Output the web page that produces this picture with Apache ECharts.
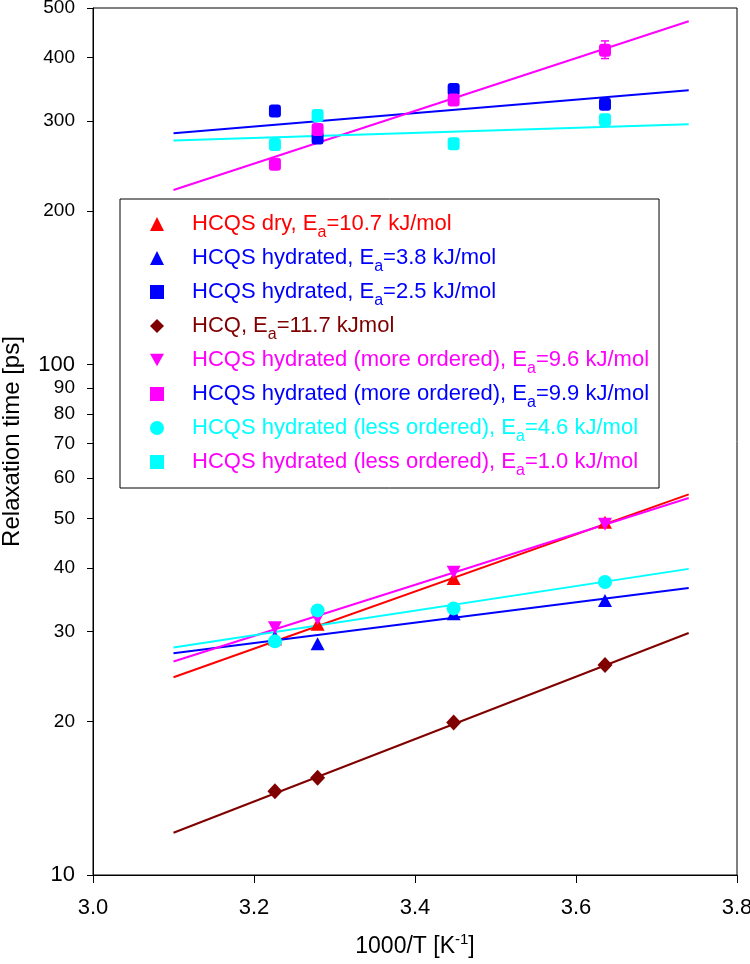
<!DOCTYPE html>
<html>
<head>
<meta charset="utf-8">
<script src="https://cdn.jsdelivr.net/npm/echarts@6/dist/echarts.min.js"></script>
<style>html,body{margin:0;padding:0;background:#fff}#chart{width:750px;height:964px}</style>
</head>
<body>
<div id="chart"></div>
<script>
// ---- data ----
const xValues = [3.226, 3.279, 3.448, 3.636];          // 1000/T [K^-1]
const fitX = [3.10, 3.74];                               // fit line end points
const yTickValues = [10, 20, 30, 40, 50, 60, 70, 80, 90, 100, 200, 300, 400, 500];

const hcqsDry        = [29.0, 31.0, 38.1, 49.1];
const hcqsDryFit     = [24.4, 55.7];
const hcqsHydTri     = [29.3, 28.4, 32.5, 34.5];
const hcqsHydTriFit  = [27.2, 36.5];
const hcqsHydSq      = [314, 278, 346, 324];
const hcqsHydSqFit   = [284, 345];
const hcq            = [14.6, 15.5, 19.9, 25.8];
const hcqFit         = [12.1, 29.8];
const moreOrdTri     = [30.5, 31.8, 39.2, 48.7];
const moreOrdTriFit  = [26.2, 54.8];
const moreOrdSq      = [247, 289, 330, 413];
const moreOrdSqFit   = [220, 471];
const lessOrdCirc    = [28.7, 33.0, 33.3, 37.5];
const lessOrdCircFit = [27.9, 39.8];
const lessOrdSq      = [270, 308, 271, 302];
const lessOrdSqFit   = [275, 296];

const errX    = [3.636];
const errLow  = [398];
const errHigh = [431];

// ---- styling ----
const FONT = "'Liberation Sans', Arial, sans-serif";
const INV_TRI = 'path://M0,0L10,0L5,9Z';
const groups = [
  {name:'HCQS dry, Ea=10.7 kJ/mol', pts:hcqsDry, fit:hcqsDryFit, symbol:'triangle', size:[14,13], color:'#FF0000', text:'#FF0000', icon:'triangle'},
  {name:'HCQS hydrated, Ea=3.8 kJ/mol', pts:hcqsHydTri, fit:hcqsHydTriFit, symbol:'triangle', size:[14,13], color:'#0000FF', text:'#0000FF', icon:'triangle'},
  {name:'HCQS hydrated, Ea=2.5 kJ/mol', pts:hcqsHydSq, fit:hcqsHydSqFit, symbol:'roundRect', size:[12,13], color:'#0000FF', text:'#0000FF', icon:'rect'},
  {name:'HCQ, Ea=11.7 kJmol', pts:hcq, fit:hcqFit, symbol:'diamond', size:[15,16], color:'#800000', text:'#800000', icon:'diamond'},
  {name:'HCQS hydrated (more ordered), Ea=9.6 kJ/mol', pts:moreOrdTri, fit:moreOrdTriFit, symbol:INV_TRI, size:[14,13], color:'#FF00FF', text:'#FF00FF', icon:INV_TRI},
  {name:'HCQS hydrated (more ordered), Ea=9.9 kJ/mol', pts:moreOrdSq, fit:moreOrdSqFit, symbol:'roundRect', size:[12,13], color:'#FF00FF', text:'#0000FF', icon:'rect'},
  {name:'HCQS hydrated (less ordered), Ea=4.6 kJ/mol', pts:lessOrdCirc, fit:lessOrdCircFit, symbol:'circle', size:14, color:'#00FFFF', text:'#00FFFF', icon:'circle'},
  {name:'HCQS hydrated (less ordered), Ea=1.0 kJ/mol', pts:lessOrdSq, fit:lessOrdSqFit, symbol:'roundRect', size:[12,13], color:'#00FFFF', text:'#FF00FF', icon:'rect'}
];

const L = v => Math.log10(v);
const series = [];
groups.forEach(g => {
  series.push({
    type:'line', name:g.name + ' (fit)', silent:true, symbol:'none', z:2,
    data: fitX.map((x, i) => [x, L(g.fit[i])]),
    lineStyle:{color:g.color, width:2}, itemStyle:{color:g.color}
  });
});
groups.forEach(g => {
  series.push({
    type:'scatter', name:g.name, symbol:g.symbol, symbolSize:g.size, z:3,
    data: xValues.map((x, i) => [x, L(g.pts[i])]),
    itemStyle:{color:g.color, opacity:1}
  });
});
series.push({
  type:'custom', name:'error', silent:true, z:4,
  data: errX.map((x, i) => [x, L(errLow[i]), L(errHigh[i])]),
  renderItem: (params, api) => {
    const lo = api.coord([api.value(0), api.value(1)]);
    const hi = api.coord([api.value(0), api.value(2)]);
    const w = 4;
    const st = {stroke:'#FF00FF', lineWidth:1.5};
    return {type:'group', children:[
      {type:'line', shape:{x1:lo[0], y1:lo[1], x2:hi[0], y2:hi[1]}, style:st},
      {type:'line', shape:{x1:lo[0]-w, y1:lo[1], x2:lo[0]+w, y2:lo[1]}, style:st},
      {type:'line', shape:{x1:hi[0]-w, y1:hi[1], x2:hi[0]+w, y2:hi[1]}, style:st}
    ]};
  }
});

const chart = echarts.init(document.getElementById('chart'));
chart.setOption({
  animation:false,
  backgroundColor:'#fff',
  textStyle:{fontFamily:FONT},
  grid:{left:93, right:13, top:8, bottom:89, show:true, borderColor:'#000', borderWidth:1,
        containLabel:false, outerBoundsMode:'none'},
  xAxis:{
    type:'value', min:3.0, max:3.8, interval:0.2,
    name:'{n|1000/T [K}{sup|-1}{n|]}', nameLocation:'middle', nameGap:57,
    nameTextStyle:{rich:{
      n:{fontSize:23, lineHeight:30, fontFamily:FONT, color:'#000'},
      sup:{fontSize:15, lineHeight:22, verticalAlign:'top', fontFamily:FONT, color:'#000'}
    }},
    axisLine:{lineStyle:{color:'#000', width:1}},
    axisTick:{show:true, inside:false, length:8, lineStyle:{color:'#000'}},
    axisLabel:{fontSize:22, color:'#000', margin:22, fontFamily:FONT, formatter:v => v.toFixed(1)},
    splitLine:{show:false}
  },
  yAxis:{
    type:'value', min:L(10), max:L(500),
    name:'Relaxation time [ps]', nameLocation:'middle', nameGap:69,
    nameTextStyle:{fontSize:24, color:'#000', fontFamily:FONT},
    axisLine:{show:true, lineStyle:{color:'#000', width:1}},
    axisTick:{show:true, inside:false, length:6, lineStyle:{color:'#000'}, customValues:yTickValues.map(L)},
    axisLabel:{
      customValues:yTickValues.map(L), margin:18, color:'#000',
      formatter:v => {
        const n = Math.round(Math.pow(10, v));
        return (n === 10 || n === 100) ? '{b|' + n + '}' : '{m|' + n + '}';
      },
      rich:{b:{fontSize:22, fontFamily:FONT, color:'#000'}, m:{fontSize:19, fontFamily:FONT, color:'#000'}}
    },
    splitLine:{show:false}
  },
  legend:{
    orient:'vertical', left:120, top:199, selectedMode:false,
    padding:[14, 10, 9, 30], itemGap:6, itemWidth:14, itemHeight:14,
    borderColor:'#000', borderWidth:1, backgroundColor:'#fff',
    data: groups.map(g => ({name:g.name, icon:g.icon, textStyle:{color:g.text}})),
    formatter: name => {
      const idx = name.indexOf('Ea=');
      return '{sp|}{n|' + name.slice(0, idx) + 'E}{s|a}{n|' + name.slice(idx + 2) + '}';
    },
    textStyle:{rich:{
      sp:{width:23, verticalAlign:'top'},
      n:{fontSize:22, verticalAlign:'top', fontFamily:FONT},
      s:{fontSize:16, lineHeight:16, verticalAlign:'top', padding:[12,0,0,0], fontFamily:FONT}
    }}
  },
  series: series
});
</script>
</body>
</html>
